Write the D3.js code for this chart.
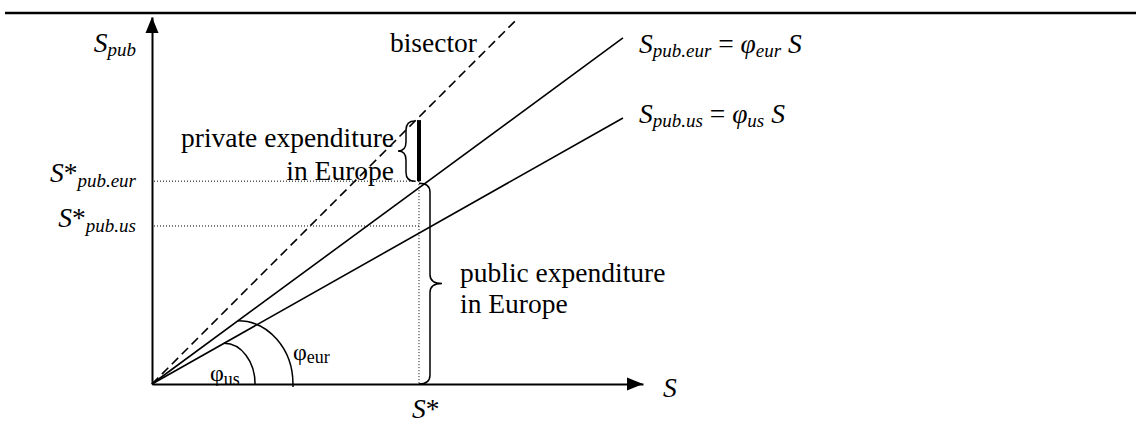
<!DOCTYPE html>
<html>
<head>
<meta charset="utf-8">
<script src="https://cdn.jsdelivr.net/npm/d3@7"></script>
<style>
  html, body { margin: 0; padding: 0; background: #fff; }
  svg { display: block; }
</style>
</head>
<body>
<div id="chart"></div>
<script>
// ---- data (model units: S* = 1) ----
const xDomainMax = 1.839;          // S axis length
const yDomainMax = 1.375;          // S_pub axis length
const lineKeys   = ["bisector", "eur", "us"];
const lineSlopes = [1.0, 0.735, 0.565];   // bisector, phi_eur, phi_us
const lineEndX   = [1.367, 1.764, 1.764];
const sStar      = 1.0;
const levelKeys  = ["eur", "us"];
const levelValues = [0.76, 0.592];        // S*pub.eur, S*pub.us
const levelSubs  = ["pub.eur", "pub.us"];
const angleKeys  = ["us", "eur"];
const angleSlope = [0.565, 0.735];
const angleStartX = [0.27, 0.322];
const angleEndX   = [0.386, 0.528];

const FONT = "'Liberation Serif', 'Times New Roman', 'DejaVu Serif', serif";
const W = 1136, H = 441;
const svg = d3.select("#chart").append("svg").attr("width", W).attr("height", H)
  .attr("font-family", FONT);

const x = d3.scaleLinear().domain([0, xDomainMax]).range([152, 643]);
const y = d3.scaleLinear().domain([0, yDomainMax]).range([384, 17]);

// top rule
svg.append("line").attr("x1", 5).attr("x2", W).attr("y1", 13).attr("y2", 13)
  .attr("stroke", "#000").attr("stroke-width", 2.5);

// axes (no ticks)
const gx = svg.append("g").attr("transform", `translate(0,${y(0)})`)
  .call(d3.axisBottom(x).tickValues([]).tickSizeOuter(0));
const gy = svg.append("g").attr("transform", `translate(${x(0)},0)`)
  .call(d3.axisLeft(y).tickValues([]).tickSizeOuter(0));
[gx, gy].forEach(g => g.select(".domain").attr("stroke", "#000").attr("stroke-width", 2));

// arrowheads
svg.append("path")
  .attr("d", `M${x(0)},${y(yDomainMax)} L${x(0) - 6.5},${y(yDomainMax) + 16} L${x(0) + 6.5},${y(yDomainMax) + 16} Z`)
  .attr("fill", "#000");
svg.append("path")
  .attr("d", `M${x(xDomainMax)},${y(0)} L${x(xDomainMax) - 16},${y(0) - 6.5} L${x(xDomainMax) - 16},${y(0) + 6.5} Z`)
  .attr("fill", "#000");

// dotted guide lines
levelValues.forEach((v, i) => {
  svg.append("line")
    .attr("x1", x(0) + 2).attr("x2", x(sStar)).attr("y1", y(v)).attr("y2", y(v))
    .attr("stroke", "#000").attr("stroke-width", 1).attr("stroke-dasharray", "1,2");
});
svg.append("line")
  .attr("x1", x(sStar)).attr("x2", x(sStar)).attr("y1", y(levelValues[0])).attr("y2", y(0))
  .attr("stroke", "#000").attr("stroke-width", 1).attr("stroke-dasharray", "1,2");

// rays
const line = d3.line().x(d => x(d[0])).y(d => y(d[1]));
lineKeys.forEach((k, i) => {
  svg.append("path")
    .attr("d", line([[0, 0], [lineEndX[i], lineSlopes[i] * lineEndX[i]]]))
    .attr("fill", "none").attr("stroke", "#000").attr("stroke-width", 1.6)
    .attr("stroke-dasharray", k === "bisector" ? "9,5" : null);
});

// thick bar: private expenditure
svg.append("line")
  .attr("x1", x(sStar)).attr("x2", x(sStar))
  .attr("y1", y(levelValues[0])).attr("y2", y(sStar * lineSlopes[0]) + 3)
  .attr("stroke", "#000").attr("stroke-width", 4);

// braces
function brace(x0, y1, y2, dir, spine, tip) {
  const xs = x0 + dir * spine, xt = x0 + dir * tip, ym = (y1 + y2) / 2, r = 9;
  return `M${x0},${y1} Q${xs},${y1} ${xs},${y1 + r} L${xs},${ym - r} Q${xs},${ym} ${xt},${ym}` +
         ` Q${xs},${ym} ${xs},${ym + r} L${xs},${y2 - r} Q${xs},${y2} ${x0},${y2}`;
}
svg.append("path")
  .attr("d", brace(x(sStar) - 4, y(sStar * lineSlopes[0]) + 4, y(levelValues[0]), -1, 9, 17))
  .attr("fill", "none").attr("stroke", "#000").attr("stroke-width", 1.5);
svg.append("path")
  .attr("d", brace(x(sStar), y(levelValues[0]) + 2, y(0), 1, 11, 23))
  .attr("fill", "none").attr("stroke", "#000").attr("stroke-width", 1.5);

// angle arcs (quarter ellipses)
angleKeys.forEach((k, i) => {
  const sx = x(angleStartX[i]), sy = y(angleSlope[i] * angleStartX[i]);
  const ex = x(angleEndX[i]), ey = y(0);
  const extra = k === "eur" ? 3 : 0;
  svg.append("path")
    .attr("d", `M${sx},${sy} A${ex - sx},${ey - sy} 0 0 1 ${ex},${ey} L${ex},${ey + extra}`)
    .attr("fill", "none").attr("stroke", "#000").attr("stroke-width", 1.5);
});

// ---- text ----
const MAIN = 27.5, SUB = 19;
function txt(parent, xPos, yPos, anchor) {
  return parent.append("text").attr("x", xPos).attr("y", yPos).attr("text-anchor", anchor)
    .attr("font-family", FONT).attr("fill", "#000");
}
function subLabel(parent, xPos, yPos, anchor, parts) {
  const t = txt(parent, xPos, yPos, anchor);
  let shift = 0;
  parts.forEach(p => {
    const ts = t.append("tspan").text(p.t)
      .attr("font-family", FONT)
      .attr("font-size", p.size || MAIN)
      .attr("font-style", p.italic ? "italic" : "normal");
    const target = p.dy || 0;
    if (target !== shift) { ts.attr("dy", target - shift); shift = target; }
  });
  return t;
}

// y-axis title
subLabel(svg, 136, 52, "end", [
  {t: "S", italic: true}, {t: "pub", italic: true, size: SUB, dy: 4}]);
// x-axis title
subLabel(svg, 663, 397, "start", [{t: "S", italic: true}]);
// S*
subLabel(svg, x(sStar) - 7, 418, "start", [{t: "S", italic: true}, {t: "*"}]);
// level labels
levelValues.forEach((v, i) => {
  subLabel(svg, 136, y(v) + 1, "end", [
    {t: "S", italic: true}, {t: "*"}, {t: levelSubs[i], italic: true, size: SUB, dy: 5}]);
});

// equation labels
const eqParts = [
  [{t: "S", italic: true}, {t: "pub.eur", italic: true, size: SUB, dy: 4},
   {t: " = ", dy: 0}, {t: "φ", italic: true}, {t: "eur", italic: true, size: SUB, dy: 4},
   {t: " S", italic: true, dy: 0}],
  [{t: "S", italic: true}, {t: "pub.us", italic: true, size: SUB, dy: 4},
   {t: " = ", dy: 0}, {t: "φ", italic: true}, {t: "us", italic: true, size: SUB, dy: 4},
   {t: " S", italic: true, dy: 0}]
];
const eqDy = [15, 5];
[1, 2].forEach((li, j) => {
  subLabel(svg, x(lineEndX[li]) + 16, y(lineSlopes[li] * lineEndX[li]) + eqDy[j], "start", eqParts[j]);
});

// plain labels
txt(svg, 477, 52, "end").attr("font-size", MAIN).text("bisector");
txt(svg, 394, 147, "end").attr("font-size", MAIN).text("private expenditure");
txt(svg, 394, 180, "end").attr("font-size", MAIN).text("in Europe");
txt(svg, 460, 282, "start").attr("font-size", MAIN).text("public expenditure");
txt(svg, 460, 313, "start").attr("font-size", MAIN).text("in Europe");

// angle labels
subLabel(svg, 210, 381, "start", [{t: "φ", size: 24}, {t: "us", size: 18, dy: 4}]);
subLabel(svg, 293, 360, "start", [{t: "φ", size: 24}, {t: "eur", size: 18, dy: 3}]);
</script>
</body>
</html>
